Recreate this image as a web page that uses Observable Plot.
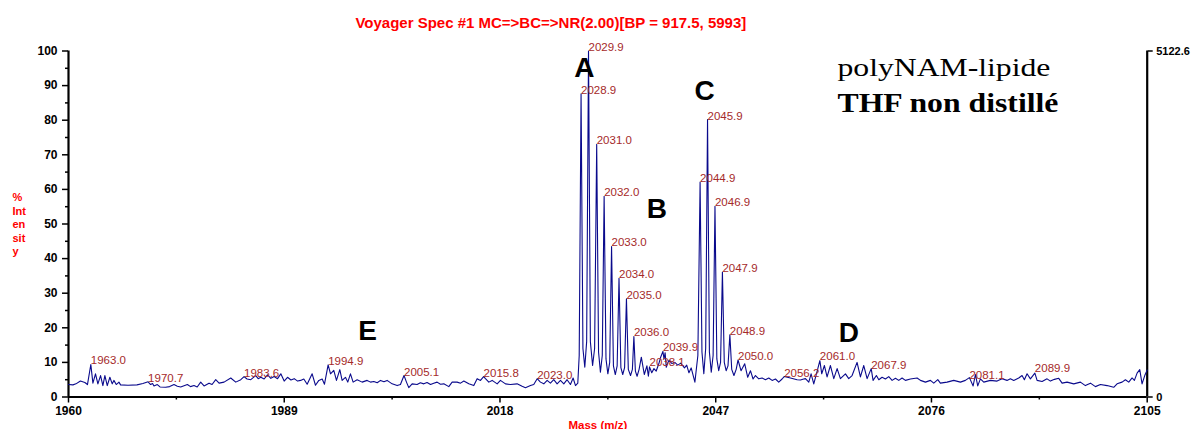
<!DOCTYPE html>
<html><head><meta charset="utf-8">
<script src="https://cdn.jsdelivr.net/npm/d3@7"></script>
<script src="https://cdn.jsdelivr.net/npm/@observablehq/plot@0.6"></script>
<style>body{margin:0;background:#fff} #chart svg{display:block}</style>
</head><body><div id="chart"></div>
<script>
// ---- spectrum: [m/z, % intensity] ----
const spectrumE = [[1960.0,3.6],[1960.6,3.5],[1961.0,3.8],[1961.6,4.6],[1962.2,4.2],[1962.55,3.6],[1963.0,9.4],[1963.28,4.0],[1963.63,6.7],[1963.95,3.8],[1964.31,6.2],[1964.62,3.3],[1964.89,6.2],[1965.21,3.3],[1965.56,5.7],[1965.88,3.8],[1966.1,4.8],[1966.42,3.6],[1966.78,4.3],[1967.0,3.5],[1968.0,3.4],[1969.2,3.5],[1970.0,3.9],[1970.7,4.4],[1971.04,3.6],[1971.3,3.9],[1971.49,3.2],[1971.94,3.6],[1972.3,2.9],[1973.06,2.8],[1973.6,3.0],[1974.18,3.6],[1974.63,3.1],[1975.08,2.9],[1975.98,3.6],[1976.4,3.0],[1976.87,3.3],[1977.3,2.9],[1977.77,4.3],[1978.22,3.2],[1978.89,4.0],[1979.3,3.6],[1979.79,5.0],[1980.24,4.0],[1980.91,4.3],[1981.81,5.5],[1982.48,4.3],[1983.16,5.0],[1983.6,5.9],[1984.0,5.2],[1984.5,5.0],[1985.17,6.2],[1985.5,5.3],[1985.85,5.7],[1986.3,5.2],[1986.75,6.4],[1987.2,5.4],[1987.64,5.9],[1988.1,5.3],[1988.54,6.7],[1988.99,4.6],[1989.44,5.7],[1989.9,4.9],[1990.34,5.3],[1990.8,4.6],
[1991.2,4.8],[1991.63,5.2],[1992.08,3.7],[1992.75,6.7],[1993.2,3.4],[1993.65,4.8],[1994.1,5.2],[1994.41,3.7],[1994.9,9.3],[1995.22,6.7],[1995.66,7.7],[1996.02,4.8],[1996.47,7.9],[1996.78,4.8],[1997.23,5.7],[1997.54,4.3],[1997.9,6.7],[1998.26,4.3],[1998.8,5.0],[1999.47,4.3],[2000.14,4.8],[2000.6,4.3],[2001.04,4.5],[2001.5,4.1],[2001.94,4.8],[2002.4,4.4],[2002.83,4.8],[2003.5,3.8],[2004.18,3.3],[2004.62,3.6],[2005.1,6.2],[2005.43,4.3],[2005.74,2.7],[2006.19,3.8],[2006.86,3.6],[2007.3,4.1],[2007.76,3.8],[2008.2,4.2],[2008.66,3.6],[2009.1,4.0],[2009.55,4.3],[2010.0,3.7],[2010.45,3.8],[2011.12,3.0],[2011.57,4.3],[2012.24,4.3],[2012.7,4.0],[2013.14,4.6],[2013.81,3.8],[2014.48,3.3],[2014.93,5.3],[2015.38,4.8],[2015.8,5.9],[2016.05,5.3],[2016.5,4.3],[2016.95,4.8],[2017.62,3.8],[2018.06,4.8],[2018.74,3.8],[2019.41,3.6],[2020.3,3.8],[2020.98,3.1],[2021.42,2.7],[2022.1,3.3],[2022.54,3.6],[2023.0,5.3],[2023.44,4.3],[2023.89,3.8],[2024.34,4.8],[2024.78,4.0],[2025.23,5.0],[2025.68,3.8],[2026.13,4.8],[2026.58,3.8],[2027.02,5.0],[2027.47,3.6],[2027.83,5.5],[2028.15,3.3],[2028.46,4.0]];
const clusterAB = [[2028.65,12],[2028.9,87.6],[2029.15,14],[2029.4,8.6],[2029.65,16],[2029.9,100],[2030.15,16],[2030.45,9.1],[2030.72,14],[2031.0,73],[2031.25,13],[2031.5,7.2],[2031.75,12],[2032.0,58],[2032.25,11],[2032.5,6.7],[2032.75,10],[2033.0,43.5],[2033.25,9],[2033.5,6.5],[2033.75,9],[2034.0,34.3],[2034.25,8.5],[2034.5,6.5],[2034.75,8.5],[2035.0,28.4],[2035.25,8],[2035.55,6.2],[2035.8,8],[2036.0,17.5],[2036.2,7.5],[2036.43,6.0],[2036.7,8],[2037.0,11.5],[2037.4,6.5],[2037.75,9.0],[2037.95,6.0],[2038.1,8.7],[2038.4,7.0],[2038.7,8.2],[2039.0,7.5],[2039.35,9.6],[2039.6,11.5],[2039.9,13.2],[2040.05,11],[2040.2,12.8],[2040.35,8.6],[2040.7,10.6],[2041.1,9.7],[2041.5,10.0],[2041.9,9.2],[2042.3,9.8],[2042.8,8.4],[2043.1,9.2],[2043.4,7.0],[2043.7,8.4],[2044.2,4.3]];
const clusterC = [[2044.6,12],[2044.9,62.1],[2045.15,13],[2045.4,6.7],[2045.65,14],[2045.9,80.2],[2046.15,13],[2046.4,7.2],[2046.65,12],[2046.9,55.1],[2047.15,11],[2047.4,7.6],[2047.65,10],[2047.9,36.1],[2048.15,10],[2048.4,7.6],[2048.65,9],[2048.9,18.0],[2049.15,8],[2049.45,6.2],[2049.75,8],[2050.0,10.7],[2050.4,7.6],[2050.9,9.6],[2051.3,5.7],[2051.67,7.6],[2052.02,5.2],[2052.34,6.2],[2052.79,5.25],[2053.23,5.5],[2053.68,5.0],[2054.13,5.5],[2054.58,4.8],[2055.03,5.2],[2055.47,4.3],[2055.92,5.2]];
const spectrumD = [[2056.2,5.9],[2057.04,5.5],[2057.94,5.0],[2058.39,4.9],[2058.83,5.2],[2059.06,5.3],[2059.51,4.3],[2059.82,6.7],[2060.18,3.8],[2060.54,6.7],[2061.0,10.5],[2061.25,6.7],[2061.61,9.1],[2061.97,5.8],[2062.42,9.1],[2062.87,5.3],[2063.32,8.2],[2063.76,5.3],[2064.44,6.7],[2064.88,5.3],[2065.33,6.2],[2066.0,10.0],[2066.45,5.8],[2066.9,9.1],[2067.35,5.3],[2067.9,8.2],[2068.15,4.8],[2068.6,6.2],[2068.92,5.0],[2069.36,5.7],[2069.81,5.2],[2070.26,5.9],[2070.71,4.8],[2071.16,5.4],[2071.6,4.8],[2072.05,5.5],[2072.5,4.8],[2073.17,5.2],[2074.07,5.5],[2074.52,4.8],[2075.19,4.3],[2075.86,4.8],[2076.31,4.0],[2076.85,5.0],[2077.2,4.0],[2078.1,4.3],[2079.0,4.8],[2079.89,4.3],[2080.56,4.8],[2081.1,5.6],[2081.6,3.2],[2081.91,6.5],[2082.22,3.2],[2082.58,5.25],[2083.03,4.3],[2083.92,4.8],[2084.82,4.6],[2085.49,5.25],[2086.16,4.8],[2086.61,5.25],[2087.06,4.8],[2087.73,5.5],[2088.18,6.2],[2088.49,5.0],[2088.85,6.7],[2089.3,5.25],[2089.9,6.9],[2090.2,4.8],[2090.87,4.5],[2091.54,5.25],[2091.99,4.6],[2092.53,5.1],[2093.11,5.4],[2093.56,4.0],[2094.23,4.3],[2095.13,3.8],[2096.02,4.3],[2096.69,3.3],[2097.37,4.0],[2098.04,3.0],[2098.71,3.6],[2099.61,3.3],[2100.5,2.8],[2100.95,3.8],[2101.62,4.3],[2102.07,5.0],[2102.52,4.3],[2102.97,5.5],[2103.28,4.8],[2103.64,6.9],[2104.0,7.9],[2104.31,3.8],[2104.67,6.2],[2105.0,7.8]];

// ---- peak labels ----
const peakLabels = ["1963.0","1970.7","1983.6","1994.9","2005.1","2015.8","2023.0","2028.9","2029.9","2031.0","2032.0","2033.0","2034.0","2035.0","2036.0","2038.1","2039.9","2044.9","2045.9","2046.9","2047.9","2048.9","2050.0","2056.2","2061.0","2067.9","2081.1","2089.9"];
const peakMz = [1963.0,1970.7,1983.6,1994.9,2005.1,2015.8,2023.0,2028.9,2029.9,2031.0,2032.0,2033.0,2034.0,2035.0,2036.0,2038.1,2039.9,2044.9,2045.9,2046.9,2047.9,2048.9,2050.0,2056.2,2061.0,2067.9,2081.1,2089.9];
const peakIntensity = [9.4,4.4,5.9,9.3,6.2,5.9,5.3,87.6,100,73,58,43.5,34.3,28.4,17.5,9.0,13.2,62.1,80.2,55.1,36.1,18.0,10.7,5.9,10.8,8.2,5.2,7.1];

// ---- cluster letters ----
const clusterLetters = ["A","B","C","D","E"];
const clusterMz = [2029.35, 2039.1, 2045.5, 2064.9, 2000.2];
const clusterIntensity = [95.1, 54.2, 88.3, 18.6, 19.2];

// ---- axes & texts ----
const xTicks = [1960, 1989, 2018, 2047, 2076, 2105];
const xMinorTicks = [1974.5, 2003.5, 2032.5, 2061.5, 2090.5];
const yTicks = [0,10,20,30,40,50,60,70,80,90,100];
const yMinorTicks = [5,15,25,35,45,55,65,75,85,95];
const rightTicks = [0, 100];
const rightTickLabels = ["0", "5122.6"];
const titleText = "Voyager Spec #1 MC=>BC=>NR(2.00)[BP = 917.5, 5993]";
const xLabel = "Mass (m/z)";
const yLabel = "%\nInt\nen\nsit\ny";
const sampleName = "polyNAM-lipide";
const sampleCondition = "THF non distillé";

const spectrum = [...spectrumE, ...clusterAB, ...clusterC, ...spectrumD].map(([mz, intensity]) => ({mz, intensity}));
const peaks = peakLabels.map((label, i) => ({label, mz: peakMz[i], intensity: peakIntensity[i]}));
const letters = clusterLetters.map((letter, i) => ({letter, mz: clusterMz[i], intensity: clusterIntensity[i]}));

const RED = "#ff0000";
const SERIF = "'Liberation Serif', 'Times New Roman', serif";
const plot = Plot.plot({
  width: 1192, height: 429,
  marginLeft: 68, marginRight: 45.3, marginTop: 50.5, marginBottom: 32.5,
  style: {fontFamily: "'Liberation Sans', Arial, sans-serif", background: "#fff", overflow: "visible"},
  x: {domain: [1960, 2105]},
  y: {domain: [0, 100]},
  marks: [
    Plot.axisY({ticks: yTicks, label: null, tickSize: 6, tickPadding: 5, tickFormat: d => String(d), fontSize: 12, fontWeight: "bold", strokeWidth: 1.5}),
    Plot.axisY({ticks: yMinorTicks, label: null, tickSize: 3, tickFormat: () => "", strokeWidth: 1.5}),
    Plot.axisY({anchor: "right", label: null, ticks: rightTicks, tickSize: 5, tickPadding: 4, tickFormat: d => rightTickLabels[rightTicks.indexOf(d)], fontSize: 11, fontWeight: "bold", strokeWidth: 1.5}),
    Plot.axisX({ticks: xTicks, label: null, tickSize: 6, tickPadding: 3, tickFormat: d => String(d), fontSize: 12, fontWeight: "bold", strokeWidth: 1.5}),
    Plot.axisX({ticks: xMinorTicks, label: null, tickSize: 3, tickFormat: () => "", strokeWidth: 1.5}),
    Plot.ruleX([1960], {stroke: "#000", strokeWidth: 2.2}),
    Plot.ruleX([2105], {stroke: "#000", strokeWidth: 2.2}),
    Plot.ruleY([0], {stroke: "#000", strokeWidth: 2.2}),
    Plot.line(spectrum, {x: "mz", y: "intensity", stroke: "#0a0a8c", strokeWidth: 1.1}),
    Plot.text(peaks, {x: "mz", y: "intensity", text: "label", textAnchor: "start", lineAnchor: "bottom", dx: 0, fill: "#a52a2a", fontSize: 11.5}),
    Plot.text(letters, {x: "mz", y: "intensity", text: "letter", textAnchor: "middle", lineAnchor: "middle", fontSize: 28, fontWeight: "bold", fill: "#000"}),
    Plot.text([titleText], {frameAnchor: "top", dx: -57, dy: -23.5, lineAnchor: "bottom", fill: RED, fontSize: 15, fontWeight: "bold"}),
    Plot.text([xLabel], {frameAnchor: "bottom", dx: -10, dy: 23.5, lineAnchor: "top", fill: RED, fontSize: 11.5, fontWeight: "bold"}),
    Plot.text([yLabel], {frameAnchor: "left", dx: -56, textAnchor: "start", lineHeight: 1.23, fill: RED, fontSize: 11, fontWeight: "bold"}),
    Plot.text([sampleName], {frameAnchor: "top-left", dx: 769, dy: 25.2, textAnchor: "start", lineAnchor: "bottom", fontFamily: SERIF, fontSize: 26, fill: "#000"}),
    Plot.text([sampleCondition], {frameAnchor: "top-left", dx: 769, dy: 61.2, textAnchor: "start", lineAnchor: "bottom", fontFamily: SERIF, fontSize: 27, fontWeight: "bold", fill: "#000"})
  ]
});
document.getElementById("chart").appendChild(plot);
// the pasted sample text box is stretched horizontally in the original: fit measured widths
const targetWidth = {[sampleName]: 213, [sampleCondition]: 221};
plot.querySelectorAll("text").forEach(t => {
  const w = targetWidth[t.textContent];
  if (!w) return;
  const bb = t.getBBox();
  const s = w / bb.width;
  t.setAttribute("transform", (t.getAttribute("transform") || "") + ` translate(${bb.x},0) scale(${s},1) translate(${-bb.x},0)`);
});
</script>
</body></html>
